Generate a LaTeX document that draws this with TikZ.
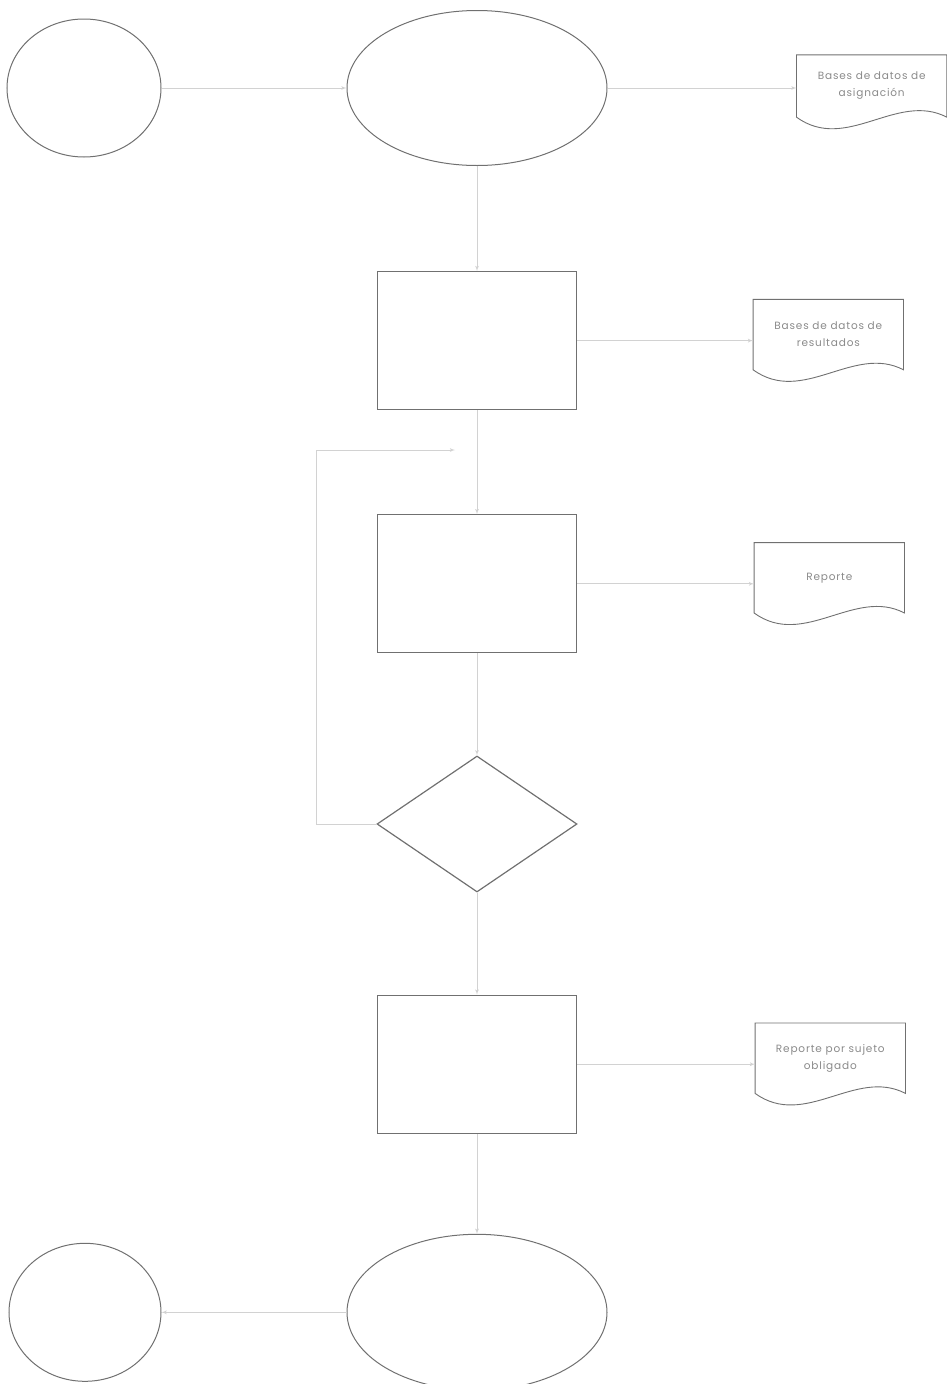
\documentclass[tikz,border=0pt]{standalone}
\usepackage{fontspec}
\usepackage{xcolor}
\usepackage{tikz}
\usetikzlibrary{shapes,arrows,positioning}
\newfontfamily\docfont{Poppins}[LetterSpace=8]
\definecolor{shapegray}{HTML}{707070}
\definecolor{linegray}{HTML}{D2D2D2}
\definecolor{textgray}{HTML}{8A8A8A}
% outline of a document symbol with a wavy lower edge
\newcommand{\docedge}[1]{%
  \draw[shapegray, line width=0.9pt] (#1.north west) -- (#1.north east) -- (#1.south east)
    .. controls ([shift={(-50pt,26pt)}]#1.south east) and ([shift={(50pt,-36pt)}]#1.south west) .. (#1.south west) -- cycle;}

\begin{document}
\begin{tikzpicture}[x=1pt, y=-1pt]
    \tikzstyle{term} = [ellipse, draw=shapegray, line width=1pt, inner sep=0pt]
    \tikzstyle{block} = [rectangle, draw=shapegray, line width=1.2pt, minimum width=199pt, minimum height=138pt]
    \tikzstyle{decision} = [diamond, draw=shapegray, line width=1.2pt, minimum width=200pt, minimum height=136pt, inner sep=0pt]
    \tikzstyle{docu} = [rectangle, minimum width=150pt, minimum height=70pt, yshift=6pt, align=center, text=textgray, font=\docfont\fontsize{10.5}{17}\selectfont]
    \tikzstyle{line} = [draw=linegray, line width=0.8pt, -latex']

    \useasboundingbox (0,0) rectangle (947,1384);

    \node [term, minimum width=260pt, minimum height=155pt] (start) at (477,88) {};
    \node [term, minimum width=154pt, minimum height=138pt, left=185pt of start] (startl) {};
    \node [docu, right=189pt of start, yshift=-4pt, minimum height=62pt] (dbasig) {Bases de datos de\\asignación};

    \node [block, below=105pt of start] (proc1) {};
    \node [docu, right=176pt of proc1] (dbres) {Bases de datos de\\resultados};

    \node [block, below=104pt of proc1] (proc2) {};
    \node [docu, right=177pt of proc2] (rep) {Reporte};

    \node [decision, below=102pt of proc2] (dec) {};

    \node [block, below=102pt of dec] (proc3) {};
    \node [docu, right=178pt of proc3] (repsuj) {Reporte por sujeto\\obligado};

    \node [term, minimum width=260pt, minimum height=156pt, below=100pt of proc3] (fin) {};
    \node [term, minimum width=152pt, minimum height=138pt, left=185pt of fin] (finl) {};

    \docedge{dbasig}
    \docedge{dbres}
    \docedge{rep}
    \docedge{repsuj}

    \coordinate (back) at (455,450);

    \path [line] (startl) -- (start);
    \path [line] (start) -- (start -| dbasig.west);
    \path [line] (start) -- (proc1);
    \path [line] (proc1) -- (proc1 -| dbres.west);
    \path [line] (proc1) -- (proc2);
    \path [line] (proc2) -- (proc2 -| rep.west);
    \path [line] (proc2) -- (dec);
    \path [line] (dec.west) -- ++(-60pt,0pt) |- (back);
    \path [line] (dec) -- (proc3);
    \path [line] (proc3) -- (proc3 -| repsuj.west);
    \path [line] (proc3) -- (fin);
    \path [line] (fin) -- (finl);
\end{tikzpicture}
\end{document}
